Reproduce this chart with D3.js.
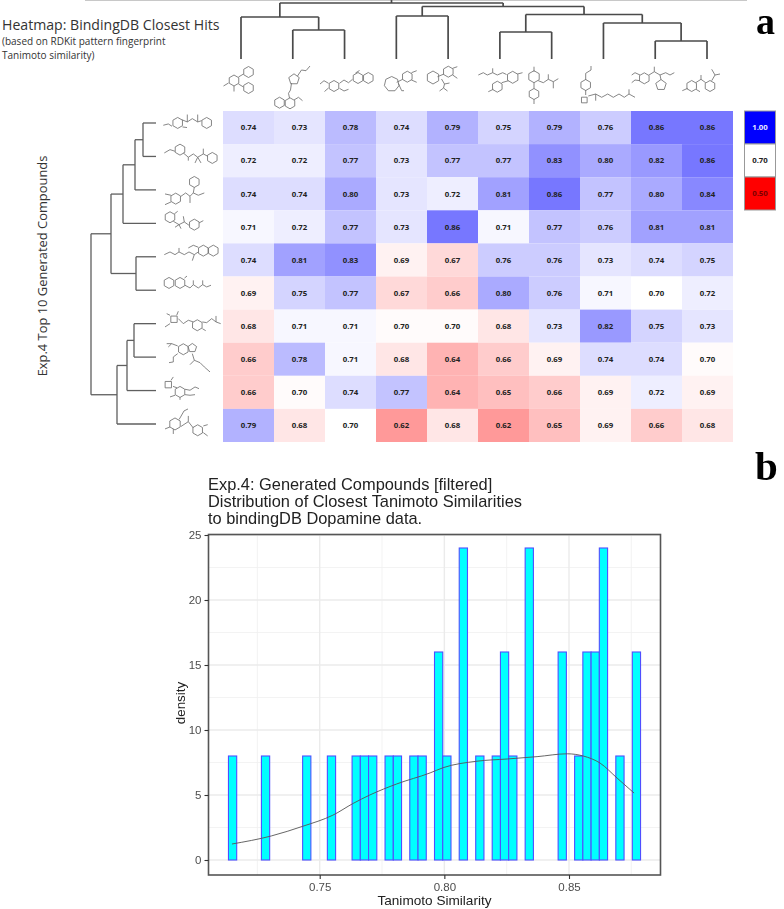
<!DOCTYPE html>
<html><head><meta charset="utf-8">
<script src="https://cdn.jsdelivr.net/npm/d3@7/dist/d3.min.js"></script>
<style>html,body{margin:0;padding:0;background:#fff}svg{display:block}</style>
</head><body>
<svg id="chart" width="784" height="909"></svg>
<script>
// ---------- Data ----------
const heatRows = [
 [0.74,0.73,0.78,0.74,0.79,0.75,0.79,0.76,0.86,0.86],
 [0.72,0.72,0.77,0.73,0.77,0.77,0.83,0.80,0.82,0.86],
 [0.74,0.74,0.80,0.73,0.72,0.81,0.86,0.77,0.80,0.84],
 [0.71,0.72,0.77,0.73,0.86,0.71,0.77,0.76,0.81,0.81],
 [0.74,0.81,0.83,0.69,0.67,0.76,0.76,0.73,0.74,0.75],
 [0.69,0.75,0.77,0.67,0.66,0.80,0.76,0.71,0.70,0.72],
 [0.68,0.71,0.71,0.697,0.697,0.68,0.73,0.82,0.75,0.73],
 [0.66,0.78,0.71,0.68,0.64,0.66,0.69,0.74,0.74,0.697],
 [0.66,0.697,0.74,0.77,0.64,0.65,0.66,0.69,0.72,0.69],
 [0.79,0.68,0.70,0.62,0.68,0.62,0.65,0.69,0.66,0.68]
];
const legendValues = [1.00,0.70,0.50];
const histStart = 0.7134, histBinWidth = 0.003306;
const histDensity = [8,0,0,0,8,0,0,0,0,8,0,0,8,0,0,8,8,8,0,8,8,0,8,8,0,16,8,0,24,0,8,0,8,16,8,0,24,0,0,0,16,0,8,16,16,24,0,8,0,16];
const densityX = [0.7148,0.7306,0.7433,0.7553,0.7634,0.7701,0.7809,0.7943,0.7995,0.8131,0.8252,0.8372,0.8493,0.8557,0.8625,0.8693,0.8761];
const densityY = [1.23,1.85,2.6,3.45,4.35,5.0,5.85,6.7,7.1,7.6,7.77,7.95,8.17,8.0,7.45,6.3,5.15];
const xTicks = [0.75,0.80,0.85], xMinor = [0.725,0.775,0.825,0.875];
const yTicks = [0,5,10,15,20,25], yMinor = [2.5,7.5,12.5,17.5,22.5];
const chartTitleLines = ["Exp.4: Generated Compounds [filtered]","Distribution of Closest Tanimoto Similarities","to bindingDB Dopamine data."];
// dendrograms: nested [height, childA, childB]; leaves are indices
const topTree = [56,[42,0,[29,1,2]],[52.5,[43,3,4],[44.5,[27,5,6],[36,7,[18,8,9]]]]];
const leftTree = [65,[45,[33,[21,[13,0,1],2],3],[20,4,5]],[39,[29,[22,6,7],8],9]];
// molecule sketches: r = ring [x,y,radius,sides], p = bond polylines (offsets from the anchor)
const R=(x,y,r=5.5,n=6)=>({x,y,r,n});
const topMol = [
 {r:[R(0,-13),R(0,3),R(-14.5,-4.5)],p:[[[-10,-8],[-5,-11]],[[-10,-1],[-5,2]],[[-14.5,1],[-14.5,6.5]],[[-20,-2],[-25,1]]]},
 {r:[R(-5.5,-5.7,5.5,5),R(-20,17.7),R(-9.5,18.3)],p:[[[-2,-9],[2,-15],[6.5,-14.3],[10.5,-19]],[[-8,-2],[-9,5],[-11,8.3],[-10,13]],[[-5.5,15],[-1,12.3],[3,15.7]]]},
 {r:[R(-16.5,1),R(7.5,-7),R(17.8,-7)],p:[[[-22,-1.7],[-26.5,-4.3],[-30.5,-1]],[[-22,3],[-26,6.5]],[[-11,3.3],[-6.5,6],[-2,4.3]],[[-11,-1.7],[-6.5,-5],[-2,-2.3],[2,-5.7]],[[5,-12],[9,-14.5]]]},
 {r:[R(-9.8,-1,7.5,7),R(5.8,-8.3)],p:[[[10,-12.3],[15.2,-14.3]],[[10,-5],[15.2,-2.7]],[[-4.8,-2.7],[1.2,-5.7]],[[-3.2,-1.7],[0.2,5.7],[2.5,5.7]]]},
 {r:[R(-19.5,-7.5,6.5),R(-4.2,-13.3)],p:[[[0.2,-16.7],[4.8,-18.3]],[[0.2,-10],[4.8,-6.7]],[[-15,-8.3],[-8.5,-11]],[[-11,-6],[-8,-1],[-9,3],[-13,6]],[[-8,-1],[-3,-2]],[[-9,3],[-5,6]]]},
 {r:[R(9.2,-7.7,6),R(-6.2,1.7)],p:[[[-25.2,-10],[-20.2,-12.3],[-16.2,-10],[-10.8,-12.3],[-6.2,-10],[-0.8,-12.3],[3,-10.5]],[[-10.8,-12.3],[-10.8,-16.7]],[[14,-11],[19,-12.3]],[[-10.2,4.3],[-15.2,6.7]],[[5,-4.3],[-1.8,-2.3]]]},
 {r:[R(-20.5,-8.3,6),R(-20.5,9)],p:[[[-20.5,-13.3],[-20.5,-18.3]],[[-20.5,14.3],[-20.5,19]],[[-20.5,-2.3],[-20.5,3.5]],[[-16.2,-4.3],[-11.2,-2.3],[-6.2,-5.7],[-1.2,-3.3],[3.8,-6.3]],[[-6.2,-5.7],[-6.2,-10.7]],[[-1.2,-3.3],[-1.2,3.3]]]},
 {r:[R(-19.8,0),R(-21.2,15,4,4)],p:[[[-19.8,-5],[-19.8,-11.7],[-14.5,-15],[-14.5,-19]],[[-19.8,5],[-19.8,10]],[[-17.2,11],[-9.8,9],[-3.8,12.3],[2.2,9],[7.8,12.3],[13.5,9],[18.8,12.3],[23.5,9],[29.5,12.3]],[[-9.8,9],[-9.8,15.7]],[[23.5,9],[23.5,4.3]]]},
 {r:[R(-12.2,-6.7),R(4.5,0,5.5,5)],p:[[[-16.5,-10],[-21.5,-12.3],[-24.8,-10]],[[-16.5,-4.3],[-21.5,-5],[-24.8,-2.3]],[[-7.5,-10],[-2.2,-13.3],[3.5,-10],[9.2,-12.3],[13.5,-10],[17.8,-12.3]],[[-2.2,-13.3],[-2.2,-18.3]],[[3.5,-10],[4.5,-5.3]]]},
 {r:[R(-15.8,1),R(2.5,1)],p:[[[-19.8,3.3],[-25.2,5.7]],[[-11.5,4.3],[-7.5,6.7]],[[-11.8,-2.3],[-6.5,-5.7],[-1.8,-2.3]],[[-6.5,-5.7],[-6.5,-10]],[[4.2,-4.3],[7.5,-10],[4.2,-15.7]],[[7.5,-10],[12.5,-11]]]}
];
const leftMol = [
 {r:[R(-12.3,-4.6),R(16.7,-4.6)],p:[[[-26.7,-2.3],[-21.7,-3.6],[-18,-1.3]],[[-7.5,-0.6],[-3,0]],[[-8.3,-7.9],[-2.7,-5.6],[2.3,-8.9],[7.7,-5.6],[11.7,-6.9]],[[-2.7,-5.6],[-2.7,-13]],[[7.7,-5.6],[7.7,-13]]]},
 {r:[R(-10,-11),R(22.3,-2.7)],p:[[[-15,-9.4],[-20,-11],[-25.7,-7.7]],[[-6.7,-7.7],[-1.7,-3.4],[3.3,-6.7],[7.7,-3.4],[13.3,-6.7],[17.7,-4.4]],[[-1.7,-3.4],[-1.7,0]],[[13.3,-6.7],[13.3,-12]],[[7.7,-3.4],[5,2.3]],[[7.7,-3.4],[11,2.3]]]},
 {r:[R(4.3,-11.8),R(-14.3,4.9)],p:[[[-19,1.5],[-25,0.2]],[[-19,8.2],[-25,10.9]],[[-9,2.5],[-4.3,-0.8],[0,2.5],[3.3,-0.8],[8.3,1.5],[14.3,-0.8]],[[0,2.5],[0,9.2]],[[4.3,-6.5],[3.3,-0.8]]]},
 {r:[R(-20,-9.6),R(4.3,-2.2)],p:[[[-16.7,-5.6],[-11,-2.2],[-5.7,-4.9],[-1,-1.6]],[[-5.7,-4.9],[-6.7,-10.6]],[[-11,-2.2],[-15,0.4]],[[-11,-2.2],[-9,1.8]],[[-15.7,-12.9],[-12.3,-15.6]],[[9,-3.9],[13.3,-6.2]]]},
 {r:[R(13.3,-9.3),R(23.3,-9.3)],p:[[[-25.7,-5.3],[-20,-8],[-15,-5.3],[-11,-8],[-5.7,-5.3],[-1,-8],[4.3,-5.3],[8.3,-8]],[[-11,-8],[-11,-12]],[[4.3,-5.3],[2.3,0.7]],[[8.3,-12.7],[3.3,-14.7],[-1.7,-12]]]},
 {r:[R(-21,-10.1),R(-10,-10.1)],p:[[[-5,-7.8],[0,-5.1],[3.3,-8.4],[8.3,-5.1],[12.7,-8.4],[16.7,-6.1],[21,-7.8]],[[3.3,-8.4],[3.3,-12.7]],[[12.7,-8.4],[12.7,-12.7]],[[-5.5,-15],[-3,-17]]]},
 {r:[R(-16,-6.9,4.5,4),R(7.3,-0.9)],p:[[[-13.3,-10.9],[-11.7,-14.9]],[[-20,-10.9],[-23.3,-12.5]],[[-20,-2.5],[-25,0.8]],[[-11.7,-7.5],[-6.7,-2.5],[-1.7,-5.9],[3.3,-4.2]],[[12.3,-4.2],[16.7,-3.5],[21.7,-7.5],[26,-4.2],[30.7,-2.5]],[[26,-4.2],[26,-10.2]],[[12.3,2.5],[15.7,4.5]]]},
 {r:[R(-6.7,-10),R(2.3,-11.3,4.5,5)],p:[[[-12.3,-13.3],[-18.3,-15.6],[-21.7,-12.3]],[[-18.3,-15.6],[-23.3,-15.6]],[[-12.3,-5.6],[-16.7,-2.3],[-16.7,2.7],[-21,3.4]],[[2.3,-5.6],[4.3,1],[10,3.4],[14.3,7.7],[20,12.7]],[[4.3,1],[0,5.4]]]},
 {r:[R(-21.7,-7.7,4.5,4),R(-10,-0.4)],p:[[[-19,-12],[-16.7,-15.4]],[[-17,-6],[-13,-4.5]],[[-5,-3.1],[0,-2.1],[5,-5.4],[9,-3.7]],[[-5,2.3],[0,2.9],[5,2.3]],[[-15,2.9],[-20,4.6]],[[-10,5],[-10,7.5]]]},
 {r:[R(-15,-1.5,6),R(7.7,4.8)],p:[[[-11,-6],[-10,-7.5],[-6,-14.5],[-2,-16.5]],[[-9,1],[-1.7,-3.8],[3.3,2.5]],[[-1.7,-3.8],[-1.7,-9.5]],[[13.3,0.5],[17.7,-0.8]],[[13.3,7.2],[17.7,10.5]],[[-20,1.5],[-25,3.5]],[[-16.7,3.5],[-16.7,8.5]]]}
];

// ---------- Drawing ----------
const svg = d3.select("#chart");
const defs = svg.append("defs");
defs.append("filter").attr("id","soft").append("feGaussianBlur").attr("stdDeviation",0.35);
const hm = {l:223,r:733,t:111,b:442};
const colX = d3.scaleBand().domain(d3.range(10)).range([hm.l,hm.r]);
const rowY = d3.scaleBand().domain(d3.range(10)).range([hm.t,hm.b]);
const heatColor = d3.scaleLinear().domain([0.5,0.7,1]).range(["#ff0000","#ffffff","#0000ff"]);
const cells = heatRows.flatMap((row,r)=>row.map((v,c)=>({r,c,v})));
const gH = svg.append("g");
gH.selectAll("rect").data(cells).join("rect")
  .attr("x",d=>colX(d.c)).attr("y",d=>rowY(d.r))
  .attr("width",colX.bandwidth()).attr("height",rowY.bandwidth())
  .attr("fill",d=>heatColor(d.v));
const cellFont = "'Open Sans',sans-serif";
gH.selectAll("text").data(cells).join("text")
  .attr("x",d=>colX(d.c)+colX.bandwidth()/2).attr("y",d=>rowY(d.r)+rowY.bandwidth()/2+2.8)
  .attr("text-anchor","middle").attr("font-family",cellFont).attr("font-weight",700)
  .attr("font-size",7.8).attr("fill","#222")
  .text(d=>d3.format(".2f")(d.v));

// colour key
const keyY = d3.scaleBand().domain(legendValues).range([111,210]);
const gK = svg.append("g");
gK.selectAll("rect").data(legendValues).join("rect")
  .attr("x",744.5).attr("y",d=>keyY(d)).attr("width",31).attr("height",keyY.bandwidth())
  .attr("fill",d=>heatColor(d)).attr("stroke","#999").attr("stroke-width",1);
gK.selectAll("text").data(legendValues).join("text")
  .attr("x",760).attr("y",d=>keyY(d)+keyY.bandwidth()/2+2.8).attr("text-anchor","middle")
  .attr("font-family",cellFont).attr("font-weight",700).attr("font-size",7.8)
  .attr("fill",d=>d===1?"#e8e8ff":d===0.5?"#7a0000":"#222").text(d=>d3.format(".2f")(d));

// dendrograms
function drawTree(g,tree,leafPos,hPos,vertical){
  const segs=[];
  (function walk(n){
    if(typeof n==="number") return {pos:leafPos(n),h:hPos(0)};
    const a=walk(n[1]),b=walk(n[2]),h=hPos(n[0]);
    segs.push([[a.pos,a.h],[a.pos,h]],[[b.pos,b.h],[b.pos,h]],[[a.pos,h],[b.pos,h]]);
    return {pos:(a.pos+b.pos)/2,h};
  })(tree);
  g.selectAll("line").data(segs).join("line")
    .attr("x1",s=>vertical?s[0][0]:s[0][1]).attr("y1",s=>vertical?s[0][1]:s[0][0])
    .attr("x2",s=>vertical?s[1][0]:s[1][1]).attr("y2",s=>vertical?s[1][1]:s[1][0]);
}
const topLeaf = d3.scaleLinear().domain([0,9]).range([241,707]);
const topH = d3.scaleLinear().domain([0,59]).range([59,0]);
drawTree(svg.append("g").attr("stroke","#4a4a4a").attr("stroke-width",1.7).attr("fill","none"),topTree,topLeaf,topH,true);
svg.append("line").attr("x1",85).attr("x2",747).attr("y1",0.5).attr("y2",0.5).attr("stroke","#c8c8c8");
svg.append("line").attr("x1",391.5).attr("x2",391.5).attr("y1",0).attr("y2",3).attr("stroke","#4a4a4a").attr("stroke-width",1.7);
const leftLeaf = d3.scalePoint().domain(d3.range(10)).range([123,424]);
const leftH = d3.scaleLinear().domain([0,65]).range([156,91]);
drawTree(svg.append("g").attr("stroke","#5f5f5f").attr("stroke-width",1.3).attr("fill","none"),leftTree,leftLeaf,leftH,false);

// molecules
function drawMol(g,m,ax,ay){
  const line=d3.line();
  const mg=g.append("g").attr("transform",`translate(${ax},${ay})`);
  mg.selectAll("path.b").data(m.p).join("path").attr("class","b").attr("d",line);
  mg.selectAll("path.r").data(m.r).join("path").attr("class","r").attr("d",o=>{
    const off=o.n===6?Math.PI/6:o.n===4?Math.PI/4:-Math.PI/2;
    return line(d3.range(o.n).map(i=>{const t=off+i*2*Math.PI/o.n;return [o.x+o.r*Math.cos(t),o.y+o.r*Math.sin(t)];}))+"Z";
  });
}
const gM = svg.append("g").attr("fill","none").attr("stroke","#707070").attr("stroke-width",0.85).attr("filter","url(#soft)");
topMol.forEach((m,i)=>drawMol(gM,m,colX(i)+colX.bandwidth()/2,85));
leftMol.forEach((m,i)=>drawMol(gM,m,190,rowY(i)+rowY.bandwidth()/2));

// heatmap titles
const ttl = svg.append("g").attr("font-family","'Open Sans',sans-serif").attr("fill","#333");
ttl.append("text").attr("x",2).attr("y",30).attr("font-size",14.1).text("Heatmap: BindingDB Closest Hits");
ttl.append("text").attr("x",2).attr("y",45).attr("font-size",10).text("(based on RDKit pattern fingerprint");
ttl.append("text").attr("x",2).attr("y",59).attr("font-size",10).text("Tanimoto similarity)");
ttl.append("text").attr("transform","translate(47,266) rotate(-90)").attr("text-anchor","middle").attr("font-size",12.9).text("Exp.4 Top 10 Generated Compounds");

// panel letters
const serif="'Liberation Serif',serif";
svg.append("text").attr("x",756).attr("y",33.5).attr("font-family",serif).attr("font-weight",700).attr("font-size",38).text("a");
svg.append("text").attr("x",755).attr("y",480).attr("font-family",serif).attr("font-weight",700).attr("font-size",41).text("b");

// histogram
const sans="'Liberation Sans',Arial,sans-serif";
const P={l:208.5,r:660.5,t:534.5,b:875};
const x=d3.scaleLinear().domain([0.75,0.85]).range([319.7,569]);
const y=d3.scaleLinear().domain([0,25]).range([860,535]);
const gG=svg.append("g").attr("fill","none");
gG.selectAll("line.xm").data(xMinor).join("line").attr("class","xm").attr("x1",x).attr("x2",x).attr("y1",P.t).attr("y2",P.b).attr("stroke","#f0f0f0").attr("stroke-width",0.8);
gG.selectAll("line.ym").data(yMinor).join("line").attr("class","ym").attr("y1",y).attr("y2",y).attr("x1",P.l).attr("x2",P.r).attr("stroke","#f0f0f0").attr("stroke-width",0.8);
gG.selectAll("line.xM").data(xTicks).join("line").attr("class","xM").attr("x1",x).attr("x2",x).attr("y1",P.t).attr("y2",P.b).attr("stroke","#ebebeb").attr("stroke-width",1.4);
gG.selectAll("line.yM").data(yTicks).join("line").attr("class","yM").attr("y1",y).attr("y2",y).attr("x1",P.l).attr("x2",P.r).attr("stroke","#ebebeb").attr("stroke-width",1.4);

const bins=histDensity.map((d,i)=>({x0:histStart+i*histBinWidth,x1:histStart+(i+1)*histBinWidth,d}));
svg.append("g").selectAll("rect").data(bins).join("rect")
  .attr("x",b=>x(b.x0)).attr("width",b=>x(b.x1)-x(b.x0))
  .attr("y",b=>y(b.d)).attr("height",b=>y(0)-y(b.d))
  .attr("fill","#00ffff").attr("stroke","#4f4fff").attr("stroke-width",1.1);

svg.append("path").datum(densityX.map((v,i)=>[v,densityY[i]]))
  .attr("d",d3.line().x(d=>x(d[0])).y(d=>y(d[1])).curve(d3.curveMonotoneX))
  .attr("fill","none").attr("stroke","#555").attr("stroke-width",0.9);

svg.append("rect").attr("x",P.l).attr("y",P.t).attr("width",P.r-P.l).attr("height",P.b-P.t)
  .attr("fill","none").attr("stroke","#555").attr("stroke-width",1.6);

const ax=svg.append("g").attr("transform",`translate(0,${P.b})`)
  .call(d3.axisBottom(x).tickValues(xTicks).tickFormat(d3.format(".2f")).tickSize(4).tickPadding(4));
const ay=svg.append("g").attr("transform",`translate(${P.l},0)`)
  .call(d3.axisLeft(y).tickValues(yTicks).tickSize(4).tickPadding(3));
[ax,ay].forEach(a=>{
  a.select(".domain").remove();
  a.selectAll("line").attr("stroke","#333").attr("stroke-width",1.1);
  a.selectAll("text").attr("font-family",sans).attr("font-size",11.5).attr("fill","#4d4d4d");
});
svg.append("text").attr("x",434.5).attr("y",905).attr("text-anchor","middle").attr("font-family",sans).attr("font-size",13.6).attr("fill","#222").text("Tanimoto Similarity");
svg.append("text").attr("transform","translate(185,703) rotate(-90)").attr("text-anchor","middle").attr("font-family",sans).attr("font-size",13.4).attr("fill","#222").text("density");
svg.append("g").selectAll("text").data(chartTitleLines).join("text")
  .attr("x",208).attr("y",(d,i)=>490+i*17).attr("font-family",sans).attr("font-size",16.4).attr("fill","#222").text(d=>d);
</script>
</body></html>
